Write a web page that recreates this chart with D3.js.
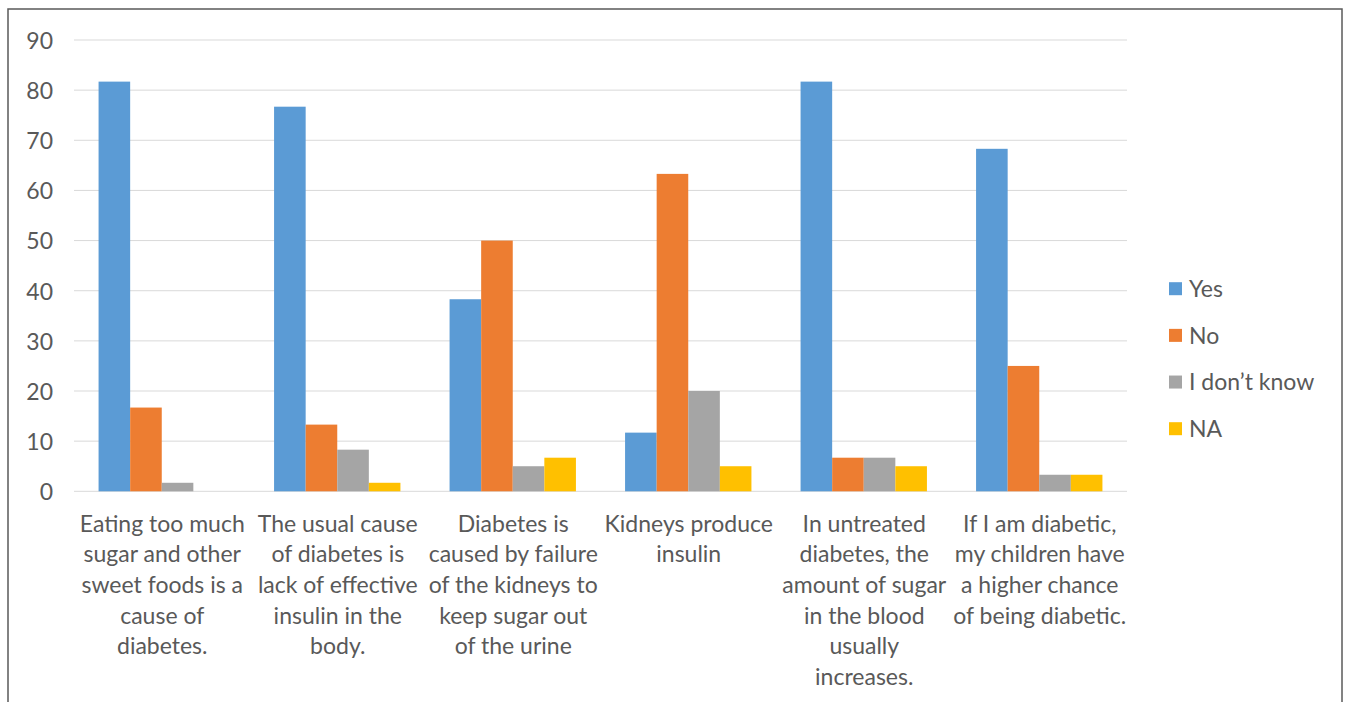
<!DOCTYPE html>
<html>
<head>
<meta charset="utf-8">
<script src="https://cdn.jsdelivr.net/npm/d3@7/dist/d3.min.js"></script>
<style>
  html, body { margin: 0; padding: 0; background: #fff; }
  svg { display: block; }
  text { font-family: Lato, "Open Sans", sans-serif; fill: #595959; }
</style>
</head>
<body>
<svg id="chart" width="1345" height="702"></svg>
<script>
const categories = [
  "Eating too much\nsugar and other\nsweet foods is a\ncause of\ndiabetes.",
  "The usual cause\nof diabetes is\nlack of effective\ninsulin in the\nbody.",
  "Diabetes is\ncaused by failure\nof the kidneys to\nkeep sugar out\nof the urine",
  "Kidneys produce\ninsulin",
  "In untreated\ndiabetes, the\namount of sugar\nin the blood\nusually\nincreases.",
  "If I am diabetic,\nmy children have\na higher chance\nof being diabetic."
];
const seriesNames = ["Yes", "No", "I don\u2019t know", "NA"];
const yes      = [81.7, 76.7, 38.3, 11.7, 81.7, 68.3];
const no       = [16.7, 13.3, 50.0, 63.3, 6.7, 25.0];
const dontKnow = [1.7, 8.3, 5.0, 20.0, 6.7, 3.3];
const na       = [0, 1.7, 6.7, 5.0, 5.0, 3.3];
const yTicks = [0, 10, 20, 30, 40, 50, 60, 70, 80, 90];
const colors = ["#5B9BD5", "#ED7D31", "#A5A5A5", "#FFC000"];

const seriesValues = [yes, no, dontKnow, na];
const FS = 23;

const svg = d3.select("#chart");

// outer frame
svg.append("rect")
  .attr("x", 8).attr("y", 9)
  .attr("width", 1334).attr("height", 720)
  .attr("fill", "none")
  .attr("stroke", "#5a5a5a")
  .attr("stroke-width", 1.5);

const plot = { left: 74, right: 1127, top: 40, bottom: 491.3 };

const x0 = d3.scaleBand()
  .domain(d3.range(categories.length))
  .range([plot.left, plot.right])
  .paddingInner(0).paddingOuter(0);

const groupWidth = x0.bandwidth() * 0.72;
const x1 = d3.scaleBand()
  .domain(d3.range(seriesNames.length))
  .range([0, groupWidth])
  .padding(0);

const y = d3.scaleLinear().domain([0, 90]).range([plot.bottom, plot.top]);

// gridlines
svg.append("g")
  .selectAll("line")
  .data(yTicks)
  .join("line")
  .attr("x1", plot.left).attr("x2", plot.right)
  .attr("y1", d => y(d)).attr("y2", d => y(d))
  .attr("stroke", "#d9d9d9")
  .attr("stroke-width", 1);

// y axis labels
const yAxis = d3.axisLeft(y).tickValues(yTicks).tickSize(0).tickPadding(0);
const yg = svg.append("g")
  .attr("transform", `translate(${plot.left - 21},0)`)
  .call(yAxis);
yg.select(".domain").remove();
yg.selectAll("text")
  .attr("font-size", FS)
  .attr("font-family", "Lato, 'Open Sans', sans-serif")
  .attr("fill", "#595959")
  .attr("dy", "0.36em");

// bars
const groups = svg.append("g")
  .selectAll("g")
  .data(categories.map((c, i) => i))
  .join("g")
  .attr("transform", i => `translate(${x0(i) + (x0.bandwidth() - groupWidth) / 2},0)`);

groups.selectAll("rect")
  .data(i => seriesValues.map((vals, s) => ({ s, v: vals[i] })))
  .join("rect")
  .attr("x", d => x1(d.s))
  .attr("width", x1.bandwidth())
  .attr("y", d => y(d.v))
  .attr("height", d => y(0) - y(d.v))
  .attr("fill", d => colors[d.s]);

// category labels
const lineH = 30.7;
const labelG = svg.append("g");
categories.forEach((c, i) => {
  const cx = x0(i) + x0.bandwidth() / 2 + 0.5;
  const t = labelG.append("text")
    .attr("text-anchor", "middle")
    .attr("font-size", FS)
    .attr("x", cx)
    .attr("y", 523.3);
  c.split("\n").forEach((line, k) => {
    t.append("tspan")
      .attr("x", cx)
      .attr("y", 523.3 + k * lineH)
      .attr("dy", "0.36em")
      .text(line);
  });
});

// legend
const legend = svg.append("g");
const legY = d3.scalePoint().domain(d3.range(seriesNames.length)).range([288.7, 428.7]);
seriesNames.forEach((name, s) => {
  legend.append("rect")
    .attr("x", 1169).attr("y", legY(s) - 6.5)
    .attr("width", 13).attr("height", 13)
    .attr("fill", colors[s]);
  legend.append("text")
    .attr("x", 1189).attr("y", legY(s))
    .attr("dy", "0.36em")
    .attr("font-size", FS)
    .text(name);
});
</script>
</body>
</html>
